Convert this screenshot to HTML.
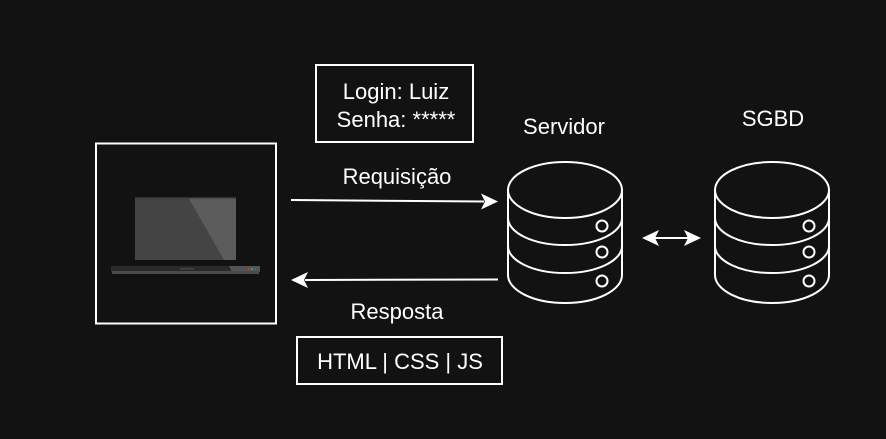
<!DOCTYPE html>
<html><head><meta charset="utf-8"><style>
html,body{margin:0;padding:0;background:#121212;}
svg{display:block;}
text{font-family:"Liberation Sans",sans-serif;fill:#fff;font-size:22px;}
</style></head><body>
<svg width="886" height="439" viewBox="0 0 886 439" xmlns="http://www.w3.org/2000/svg">
<rect width="886" height="439" fill="#121212"/>
<!-- laptop box -->
<rect x="96" y="143.5" width="180" height="180" fill="none" stroke="#fff" stroke-width="2"/>
<rect x="135" y="197" width="101" height="63" fill="#444"/>
<polygon points="188,197 236,197 236,260 224,260" fill="#5c5c5c"/>
<rect x="135" y="197" width="101" height="1.5" fill="#333"/>
<rect x="111" y="266" width="149" height="6" fill="#2a2a2a"/>
<polygon points="229,266 260,266 260,272 232,272" fill="#555"/>
<rect x="112" y="271" width="147" height="3" fill="#4a4a4a"/>
<rect x="180" y="268" width="14" height="1.5" fill="#444"/>
<rect x="248" y="268" width="2" height="2" fill="#c33"/>
<rect x="251" y="268" width="2" height="2" fill="#3a3"/>
<rect x="254" y="268" width="2" height="2" fill="#36c"/>
<!-- login box -->
<rect x="316" y="65" width="157" height="77" fill="none" stroke="#fff" stroke-width="2"/>
<text x="396" y="99" text-anchor="middle">Login: Luiz</text>
<text x="396" y="127" text-anchor="middle">Senha: *****</text>
<!-- arrows -->
<text x="397" y="184" text-anchor="middle">Requisição</text>
<line x1="291" y1="200" x2="484" y2="201.5" stroke="#fff" stroke-width="2"/>
<polygon points="498,201.5 481,193.5 485,201.5 481,209.5" fill="#fff"/>
<line x1="498" y1="279.5" x2="305" y2="280" stroke="#fff" stroke-width="2"/>
<polygon points="291,280 308,272 304,280 308,288" fill="#fff"/>
<text x="397" y="319" text-anchor="middle">Resposta</text>
<rect x="297" y="337" width="205" height="47" fill="none" stroke="#fff" stroke-width="2"/>
<text x="400" y="369" text-anchor="middle">HTML | CSS | JS</text>
<!-- labels -->
<text x="564" y="134" text-anchor="middle">Servidor</text>
<text x="773" y="126" text-anchor="middle">SGBD</text>
<!-- cylinders -->
<g fill="none" stroke="#fff" stroke-width="2">
 <g id="c1">
  <ellipse cx="565" cy="190" rx="57" ry="28"/>
  <path d="M508,190 V275 A57,28 0 0 0 622,275 V190"/>
  <path d="M508,218 A57,27 0 0 0 622,218"/>
  <path d="M508,246 A57,27 0 0 0 622,246"/>
  <circle cx="602" cy="226" r="5.5"/>
  <circle cx="602" cy="252" r="5.5"/>
  <circle cx="602" cy="281" r="5.5"/>
 </g>
 <use href="#c1" x="207"/>
</g>
<!-- double arrow -->
<line x1="650" y1="238" x2="693" y2="238" stroke="#fff" stroke-width="2"/>
<polygon points="642,238 659,230 655,238 659,246" fill="#fff"/>
<polygon points="701,238 684,230 688,238 684,246" fill="#fff"/>
</svg>
</body></html>
